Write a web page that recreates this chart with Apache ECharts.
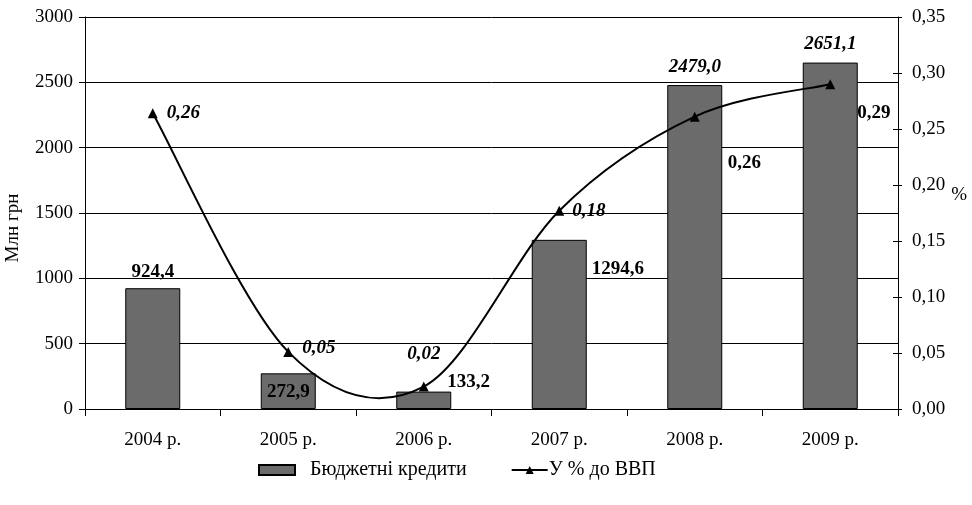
<!DOCTYPE html>
<html lang="uk">
<head>
    <meta charset="UTF-8">
    <title>Бюджетні кредити</title>
    <script src="https://cdn.jsdelivr.net/npm/echarts@6/dist/echarts.min.js"></script>
    <style>
        html, body { margin: 0; padding: 0; background: #fff; }
        #chart { width: 972px; height: 505px; }
    </style>
</head>
<body>
<div id="chart"></div>
<script type="text/javascript">
    // дані
    var years = ['2004 р.', '2005 р.', '2006 р.', '2007 р.', '2008 р.', '2009 р.'];
    var credits = [924.4, 272.9, 133.2, 1294.6, 2479.0, 2651.1];
    var shareGdp = [0.264, 0.051, 0.020, 0.177, 0.261, 0.290];
    var leftTicks = [0, 3000, 500];
    var rightTicks = [0, 0.35, 0.05];

    var FONT = '"Liberation Serif", "Times New Roman", serif';

    function comma(v, d) {
        return v.toFixed(d).replace('.', ',');
    }

    // підписи стовпчиків: позиція і стиль для кожного
    var barLabelCfg = [
        { position: 'top', distance: 7 },
        { position: 'insideTop', distance: 9 },
        { position: [51, -19] },
        { position: [60, 20] },
        { position: 'top', distance: 8, fontStyle: 'italic' },
        { position: 'top', distance: 9, fontStyle: 'italic' }
    ];
    // підписи лінії
    var lineLabelCfg = [
        { position: 'right', distance: 9, fontStyle: 'italic' },
        { position: 'right', distance: 9, offset: [0, -4], fontStyle: 'italic' },
        { position: 'top', distance: 18, offset: [0, 0], fontStyle: 'italic' },
        { position: 'right', distance: 8, fontStyle: 'italic' },
        { position: [38, 42] },
        { position: [32, 24] }
    ];

    var barData = credits.map(function (v, i) {
        return { value: v, label: Object.assign({ show: true }, barLabelCfg[i]) };
    });
    var lineData = shareGdp.map(function (v, i) {
        return { value: v, label: Object.assign({ show: true }, lineLabelCfg[i]) };
    });

    // згладжена крива як в Excel (Catmull-Rom -> Bezier), точки через api.coord
    function renderCurve(params, api) {
        var i = params.dataIndex;
        var n = shareGdp.length;
        if (i >= n - 1) return null;
        function pt(k) {
            k = Math.max(0, Math.min(n - 1, k));
            return api.coord([k, shareGdp[k]]);
        }
        var p0 = pt(i - 1), p1 = pt(i), p2 = pt(i + 1), p3 = pt(i + 2);
        return {
            type: 'bezierCurve',
            shape: {
                x1: p1[0], y1: p1[1],
                cpx1: p1[0] + (p2[0] - p0[0]) / 6,
                cpy1: p1[1] + (p2[1] - p0[1]) / 6,
                cpx2: p2[0] - (p3[0] - p1[0]) / 6,
                cpy2: p2[1] - (p3[1] - p1[1]) / 6,
                x2: p2[0], y2: p2[1]
            },
            style: { stroke: '#000', lineWidth: 2, fill: null }
        };
    }

    var chart = echarts.init(document.getElementById('chart'));
    chart.setOption({
        animation: false,
        backgroundColor: '#fff',
        textStyle: { fontFamily: FONT, color: '#000' },
        grid: { left: 85, right: 74, top: 17, bottom: 96, containLabel: false, outerBoundsMode: 'none' },
        legend: {
            left: 253,
            top: 455,
            itemWidth: 36,
            itemHeight: 10,
            itemGap: 44,
            textStyle: { fontFamily: FONT, fontSize: 20, color: '#000' },
            lineStyle: { color: '#000', width: 2, opacity: 1 },
            data: [
                { name: 'Бюджетні кредити', icon: 'rect', textStyle: { padding: [0, 0, 0, 10] } },
                { name: 'У % до ВВП', textStyle: { padding: [0, 0, 0, -4] } }
            ]
        },
        xAxis: {
            type: 'category',
            data: years,
            axisLine: { lineStyle: { color: '#000', width: 1 } },
            axisTick: { show: true, length: 7, lineStyle: { color: '#000' } },
            axisLabel: { fontFamily: FONT, fontSize: 19, color: '#000', margin: 22 }
        },
        yAxis: [{
            type: 'value',
            min: leftTicks[0],
            max: leftTicks[1],
            interval: leftTicks[2],
            name: 'Млн грн',
            nameLocation: 'middle',
            nameGap: 62,
            nameTextStyle: { fontFamily: FONT, fontSize: 19, color: '#000', padding: [0, 30, 0, 0] },
            axisLine: { show: true, lineStyle: { color: '#000' } },
            axisTick: { show: true, length: 6, lineStyle: { color: '#000' } },
            axisLabel: {
                fontFamily: FONT, fontSize: 19, color: '#000', margin: 12,
                formatter: function (v) { return String(v); }
            },
            splitLine: { show: true, lineStyle: { color: '#000', width: 1 } }
        }, {
            type: 'value',
            position: 'right',
            min: rightTicks[0],
            max: rightTicks[1],
            interval: rightTicks[2],
            name: '%',
            nameLocation: 'middle',
            nameRotate: 0,
            nameGap: 37,
            nameTextStyle: { fontFamily: FONT, fontSize: 19, color: '#000', verticalAlign: 'bottom', padding: [0, 0, 8, 0] },
            axisLine: { show: true, lineStyle: { color: '#000' } },
            axisTick: { show: true, length: 4, lineStyle: { color: '#000' } },
            axisLabel: {
                fontFamily: FONT, fontSize: 19, color: '#000', margin: 14,
                formatter: function (v) { return comma(v, 2); }
            },
            splitLine: { show: false }
        }, {
            // внутрішні засічки правої осі
            type: 'value',
            position: 'right',
            min: rightTicks[0],
            max: rightTicks[1],
            interval: rightTicks[2],
            axisLine: { show: false },
            axisTick: { show: true, inside: true, length: 5, lineStyle: { color: '#000' } },
            axisLabel: { show: false },
            splitLine: { show: false }
        }],
        series: [{
            name: 'Бюджетні кредити',
            type: 'bar',
            barWidth: 55,
            data: barData,
            itemStyle: { color: '#6b6b6b', borderColor: '#000', borderWidth: 1 },
            label: {
                fontFamily: FONT, fontSize: 19, fontWeight: 'bold', color: '#000',
                formatter: function (p) { return comma(p.value, 1); }
            },
            z: 2
        }, {
            type: 'custom',
            yAxisIndex: 1,
            data: shareGdp,
            renderItem: renderCurve,
            silent: true,
            z: 3
        }, {
            name: 'У % до ВВП',
            type: 'line',
            yAxisIndex: 1,
            data: lineData,
            symbol: 'triangle',
            symbolSize: 10,
            lineStyle: { color: '#000', width: 2, opacity: 0 },
            itemStyle: { color: '#000' },
            label: {
                fontFamily: FONT, fontSize: 19, fontWeight: 'bold', color: '#000',
                formatter: function (p) { return comma(p.value, 2); }
            },
            z: 4
        }]
    });
</script>
</body>
</html>
